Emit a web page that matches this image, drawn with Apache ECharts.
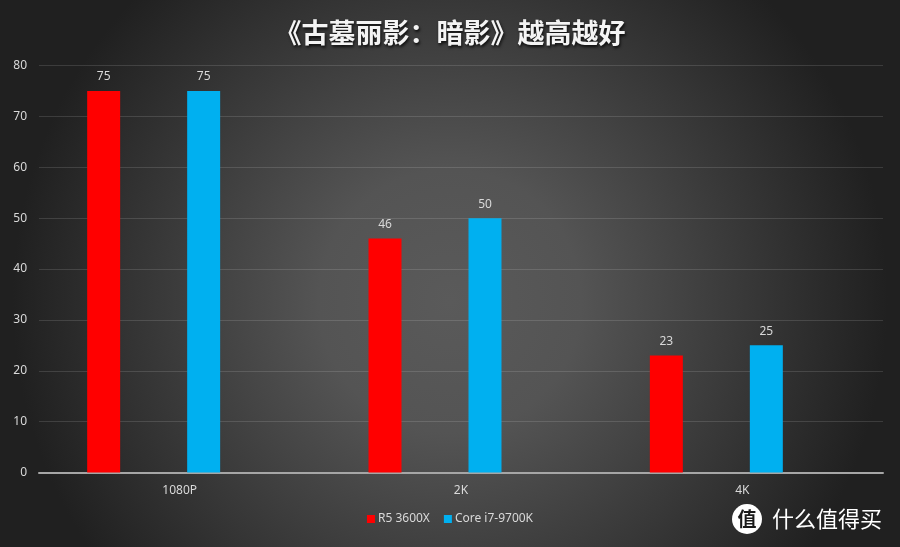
<!DOCTYPE html>
<html>
<head>
<meta charset="utf-8">
<script src="https://cdn.jsdelivr.net/npm/echarts@6/dist/echarts.min.js"></script>
<style>
  html, body { margin: 0; padding: 0; }
  #chart { width: 900px; height: 547px; }
</style>
</head>
<body>
<div id="chart"></div>
<script>
  var categories = ['1080P', '2K', '4K'];
  var seriesNames = ['R5 3600X', 'Core i7-9700K'];
  var r5Data = [75, 46, 23];
  var i7Data = [75, 50, 25];
  var yTicks = [0, 80, 10]; // min, max, interval

  var chart = echarts.init(document.getElementById('chart'));
  var labelColor = '#d9d9d9';

  chart.setOption({
    backgroundColor: {
      type: 'radial', x: 0.5, y: 0.55, r: 0.8,
      colorStops: [
        { offset: 0, color: '#5a5a5a' },
        { offset: 0.3, color: '#545454' },
        { offset: 1, color: '#202020' }
      ]
    },
    color: ['#ff0000', '#00b0f0'],
    title: {
      text: '《古墓丽影：暗影》越高越好',
      left: 'center',
      top: 14,
      textStyle: {
        color: '#f4f4f4',
        fontSize: 27,
        fontWeight: 'bold',
        fontFamily: 'Noto Sans CJK SC',
        textShadowColor: 'rgba(0,0,0,0.8)',
        textShadowBlur: 3,
        textShadowOffsetX: 1,
        textShadowOffsetY: 2
      }
    },
    legend: {
      bottom: 17,
      left: 'center',
      itemWidth: 8,
      itemHeight: 8,
      itemGap: 14,
      icon: 'rect',
      data: seriesNames,
      textStyle: { color: labelColor, fontSize: 12, fontFamily: 'Noto Sans', padding: [0, 0, 0, -2] }
    },
    /* grid 0 draws axes, grid 1 carries the bars (shifted left like the original) */
    grid: [
      { left: 39, right: 17, top: 65.5, bottom: 74.5 },
      { left: 13, right: 43, top: 65.5, bottom: 74.5 }
    ],
    xAxis: [
      {
        type: 'category',
        gridIndex: 0,
        data: categories,
        axisLine: { lineStyle: { color: '#a6a6a6', width: 2 } },
        axisTick: { show: false },
        axisLabel: { color: labelColor, fontSize: 12, margin: 12, fontFamily: 'Noto Sans' }
      },
      {
        type: 'category',
        gridIndex: 1,
        data: categories,
        show: false
      }
    ],
    yAxis: [
      {
        type: 'value',
        gridIndex: 0,
        min: yTicks[0],
        max: yTicks[1],
        interval: yTicks[2],
        axisLine: { show: false },
        axisTick: { show: false },
        axisLabel: { color: labelColor, fontSize: 12, margin: 12, fontFamily: 'Noto Sans' },
        splitLine: { lineStyle: { color: 'rgba(255,255,255,0.13)', width: 1 } }
      },
      {
        type: 'value',
        gridIndex: 1,
        min: yTicks[0],
        max: yTicks[1],
        show: false
      }
    ],
    series: [
      {
        name: seriesNames[0],
        type: 'bar',
        xAxisIndex: 1,
        yAxisIndex: 1,
        data: r5Data,
        barWidth: 33,
        barGap: '203%',
        z: 3,
        label: { show: true, position: 'top', distance: 8, color: labelColor, fontSize: 12, fontFamily: 'Noto Sans' }
      },
      {
        name: seriesNames[1],
        type: 'bar',
        xAxisIndex: 1,
        yAxisIndex: 1,
        data: i7Data,
        barWidth: 33,
        barGap: '203%',
        z: 3,
        label: { show: true, position: 'top', distance: 8, color: labelColor, fontSize: 12, fontFamily: 'Noto Sans' }
      }
    ],
    graphic: [
      {
        type: 'circle',
        shape: { cx: 747, cy: 519, r: 15 },
        style: { fill: '#ffffff' }
      },
      {
        type: 'text',
        x: 747, y: 519,
        style: { text: '值', fill: '#1a1a1a', font: 'bold 19px "Noto Sans CJK SC"', align: 'center', verticalAlign: 'middle' }
      },
      {
        type: 'text',
        x: 772, y: 519,
        style: { text: '什么值得买', fill: '#ffffff', font: '22px "Noto Sans CJK SC"', verticalAlign: 'middle' }
      }
    ]
  });
</script>
</body>
</html>
